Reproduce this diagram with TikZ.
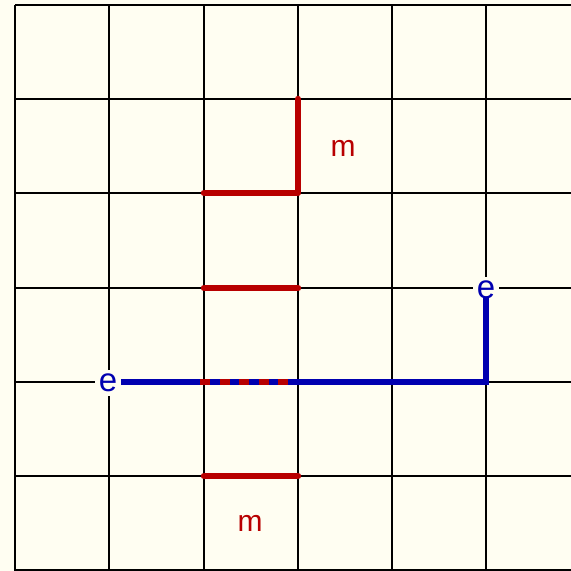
\documentclass[tikz,border=0pt]{standalone}
\usepackage{fontspec}
\setmainfont{Liberation Sans}
\definecolor{bg}{HTML}{FFFEF2}
\definecolor{mred}{HTML}{B80000}
\definecolor{eblue}{HTML}{0000B0}
\begin{document}
\begin{tikzpicture}[x=1pt,y=-1pt,
  gridline/.style={black,line width=2.4pt},
  redseg/.style={mred,line width=6.5pt,line cap=round,line join=round},
  blueseg/.style={eblue,line width=6.5pt,line join=miter},
  reddash/.style={mred,line width=6.5pt,dash pattern=on 10pt off 9.5pt},
  mlabel/.style={text=mred,font=\fontsize{30}{32}\selectfont,inner sep=0pt},
  elabel/.style={text=eblue,font=\fontsize{33}{35}\selectfont,fill=bg,inner sep=4pt}]
\fill[bg] (0,0) rectangle (571,571);
\useasboundingbox (0,0) rectangle (571,571);
% grid
\foreach \x in {15,109,204,298,392,486} {
  \draw[gridline] (\x,5) -- (\x,571);
}
\foreach \y in {5,99,193,288,382,476,570} {
  \draw[gridline] (15,\y) -- (571,\y);
}
% grid points
\coordinate (c24) at (204,193);
\coordinate (c34) at (298,193);
\coordinate (c33) at (298,99);
\coordinate (c23) at (204,288);
\coordinate (c35) at (298,288);
\coordinate (c26) at (204,476);
\coordinate (c36) at (298,476);
\coordinate (b1) at (200,382);
\coordinate (b2) at (288,382);
\coordinate (corner) at (486,382);
% labels
\node[elabel] (eL) at (108,383) {e};
\node[elabel] (eR) at (486,290) {e};
\node[mlabel] (m1) at (343,148) {m};
\node[mlabel] (m2) at (250,523) {m};
% red segments
\draw[redseg] (c33) -- (c34) -- (c24);
\draw[redseg] (c23) -- (c35);
\draw[redseg] (c26) -- (c36);
% blue path
\draw[blueseg] (eL.east |- corner) -- (corner) -- ([yshift=6pt]eR.south);
\draw[reddash] (b1) -- (b2);
\end{tikzpicture}
\end{document}
